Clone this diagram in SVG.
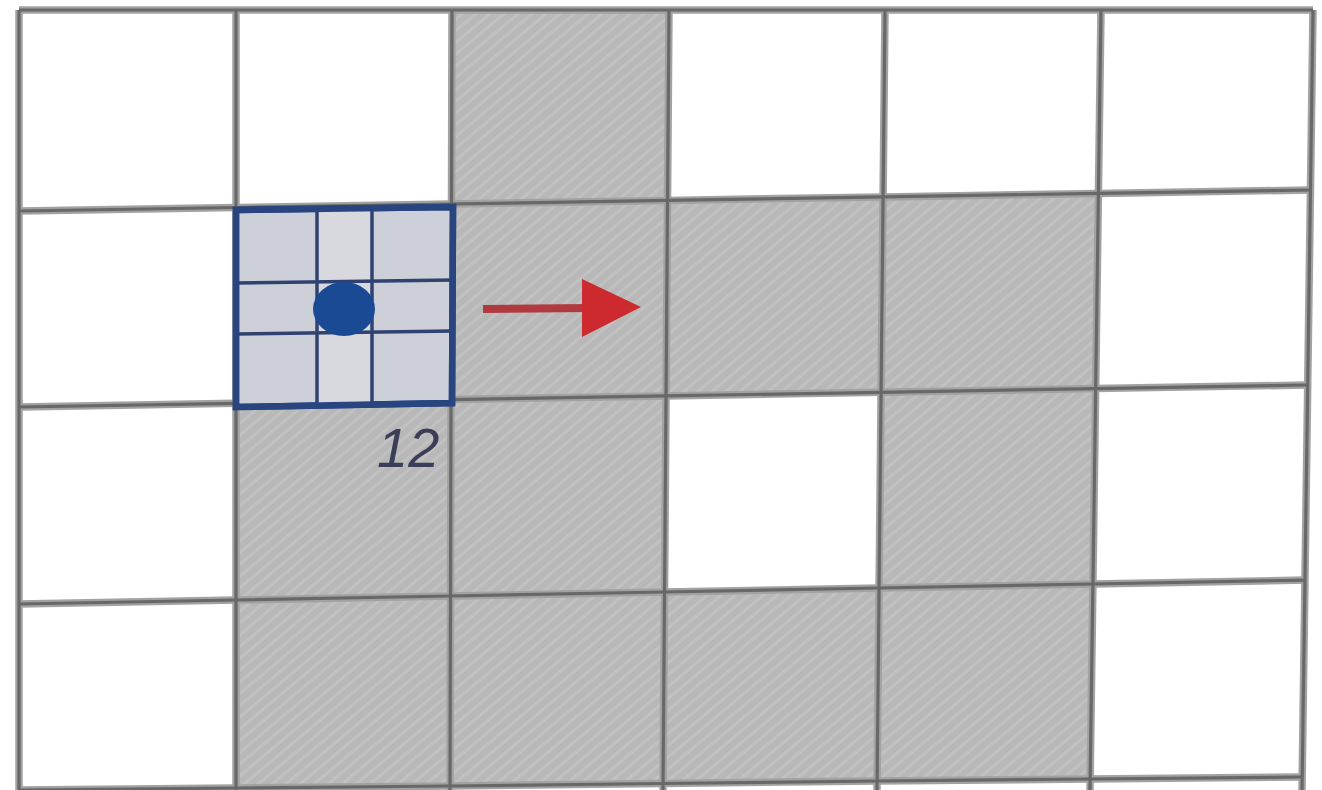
<svg xmlns="http://www.w3.org/2000/svg" width="1322" height="790" viewBox="0 0 1322 790">
  <style>
    .w { fill: #ffffff; }
    .g { fill: url(#hatch); }
    .halo { fill: none; stroke: #a2a2a2; stroke-width: 7.5; stroke-linejoin: round; }
    .core { fill: none; stroke: #686868; stroke-width: 3.2; stroke-linejoin: round; }
    .bline { fill: none; stroke: #2f4270; stroke-width: 3.5; }
    .bbox { fill: #cdd0d9; stroke: #28457f; stroke-width: 6.5; stroke-linejoin: miter; }
    .lbl { font-family: "Liberation Sans", Arial, sans-serif; font-style: italic; font-size: 56px; fill: #3b3e58; }
  </style>
  <defs>
    <pattern id="hatch" patternUnits="userSpaceOnUse" width="9" height="9" patternTransform="rotate(-40)">
      <rect width="9" height="9" fill="#b8b8b8"/>
      <rect width="9" height="3" fill="#c1c1c1"/>
    </pattern>
  </defs>
  <rect width="1322" height="790" fill="#ffffff"/>

  <g id="cells">
    <polygon id="c-0-2" class="g" points="452,10 669,10 667.5,200.4 451.5,204"/>
    <polygon id="c-1-2" class="g" points="451.5,204 667.5,200.4 666,395.9 451,399.6"/>
    <polygon id="c-1-3" class="g" points="667.5,200.4 883.1,196.9 881.1,392.3 666,395.9"/>
    <polygon id="c-1-4" class="g" points="883.1,196.9 1098.4,193.4 1095.7,388.6 881.1,392.3"/>
    <polygon id="c-2-1" class="g" points="236,403.3 451,399.6 450.5,596 236,600"/>
    <polygon id="c-2-2" class="g" points="451,399.6 666,395.9 664.5,592 450.5,596"/>
    <polygon id="c-2-4" class="g" points="881.1,392.3 1095.7,388.6 1092.9,584 879,588"/>
    <polygon id="c-3-1" class="g" points="236,600 450.5,596 450,786 236,790"/>
    <polygon id="c-3-2" class="g" points="450.5,596 664.5,592 663,783.5 450,786"/>
    <polygon id="c-3-3" class="g" points="664.5,592 879,588 877,781 663,783.5"/>
    <polygon id="c-3-4" class="g" points="879,588 1092.9,584 1090,779 877,781"/>
  </g>

  <g id="grid-lines">
    <g class="halo">
      <polyline points="19,10 1313,10"/>
      <polyline points="19,211 236,207.5 451.5,204 667.5,200.4 883.1,196.9 1098.4,193.4 1310.5,190"/>
      <polyline points="19,407 236,403.3 451,399.6 666,395.9 881.1,392.3 1095.7,388.6 1307.7,385"/>
      <polyline points="19,604 236,600 450.5,596 664.5,592 879,588 1092.9,584 1305,580.1"/>
      <polyline points="19,790 236,788 450,786 663,783.5 877,781 1090,779 1302,777"/>
      <polyline points="19,10 19,790"/>
      <polyline points="236,10 236,790"/>
      <polyline points="452,10 450,790"/>
      <polyline points="669,10 663,790"/>
      <polyline points="885,10 877,790"/>
      <polyline points="1101,10 1090,790"/>
      <polyline points="1313,10 1302,790"/>
    </g>
    <g class="core">
      <polyline points="19,10 1313,10"/>
      <polyline points="19,211 236,207.5 451.5,204 667.5,200.4 883.1,196.9 1098.4,193.4 1310.5,190"/>
      <polyline points="19,407 236,403.3 451,399.6 666,395.9 881.1,392.3 1095.7,388.6 1307.7,385"/>
      <polyline points="19,604 236,600 450.5,596 664.5,592 879,588 1092.9,584 1305,580.1"/>
      <polyline points="19,790 236,788 450,786 663,783.5 877,781 1090,779 1302,777"/>
      <polyline points="19,10 19,790"/>
      <polyline points="236,10 236,790"/>
      <polyline points="452,10 450,790"/>
      <polyline points="669,10 663,790"/>
      <polyline points="885,10 877,790"/>
      <polyline points="1101,10 1090,790"/>
      <polyline points="1313,10 1302,790"/>
    </g>
  </g>

  <g id="probe">
    <polygon class="bbox" points="236,210 453,207 452,403 236,407"/>
    <polygon points="317,210 372,209 372,405 317,406" fill="#d8d9de"/>
    <line class="bline" x1="317" y1="210" x2="317" y2="406"/>
    <line class="bline" x1="372" y1="209" x2="372" y2="405"/>
    <line class="bline" x1="236" y1="283" x2="453" y2="280"/>
    <line class="bline" x1="236" y1="334" x2="453" y2="331"/>
    <polygon fill="none" stroke="#28457f" stroke-width="6.5" points="236,210 453,207 452,403 236,407"/>
    <ellipse cx="344" cy="309" rx="31" ry="27" fill="#1b4a94"/>
  </g>

  <g id="label-12">
    <text class="lbl" x="377" y="467">12</text>
  </g>

  <g id="connectors">
    <line x1="483" y1="309" x2="590" y2="308" stroke="#b13a3e" stroke-width="8"/>
    <polygon points="582,279 641,307 582,337" fill="#cc2a2e"/>
  </g>
</svg>
